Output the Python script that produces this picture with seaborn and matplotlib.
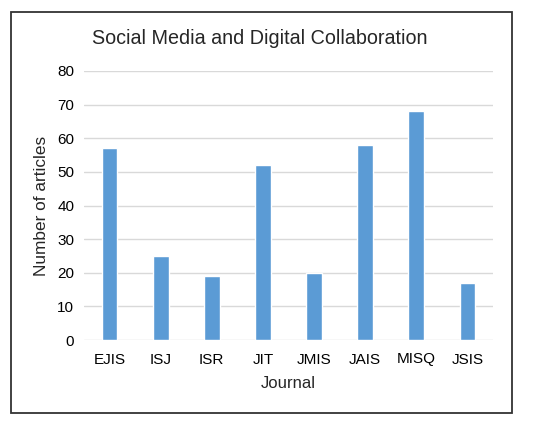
import matplotlib
matplotlib.use("Agg")
import matplotlib.pyplot as plt
import seaborn as sns
import pandas as pd
from matplotlib.patches import Rectangle

journals = ["EJIS", "ISJ", "ISR", "JIT", "JMIS", "JAIS", "MISQ", "JSIS"]
articles = [57, 25, 19, 52, 20, 58, 68, 17]
yticks = [0, 10, 20, 30, 40, 50, 60, 70, 80]

sns.set_style("white")
plt.rcParams['font.family'] = ['Liberation Sans', 'DejaVu Sans']

df = pd.DataFrame({"Journal": journals, "Number of articles": articles})

fig = plt.figure(figsize=(5.5, 4.26), dpi=100)
ax = fig.add_axes([84/550, 1-340/426, (493-84)/550, (340-71)/426])

sns.barplot(data=df, x="Journal", y="Number of articles", color="#5B9BD5",
            width=0.31, saturation=1, ax=ax, zorder=3)

ax.set_ylim(0, 80)
ax.set_xlim(-0.5, len(journals)-0.5)
ax.set_yticks(yticks)
ax.yaxis.grid(True, color="#D9D9D9", linewidth=1.0, zorder=0)
ax.set_axisbelow(True)
for s in ax.spines.values():
    s.set_visible(False)
ax.tick_params(axis='both', length=0, labelsize=11, colors="#000000")
ax.tick_params(axis='x', pad=9)
ax.tick_params(axis='y', pad=7)
ax.set_xlabel("Journal", fontsize=12, labelpad=7)
ax.set_ylabel("Number of articles", fontsize=12.4, labelpad=6)
fig.text(260/550, 1-38/426, "Social Media and Digital Collaboration",
         fontsize=14.2, ha="center", va="center")

fig.patches.append(Rectangle((11/550, 1-413/426), 501/550, 401/426,
                             transform=fig.transFigure, fill=False,
                             edgecolor="#333333", linewidth=1.3))

fig.savefig("out.png", dpi=100)
